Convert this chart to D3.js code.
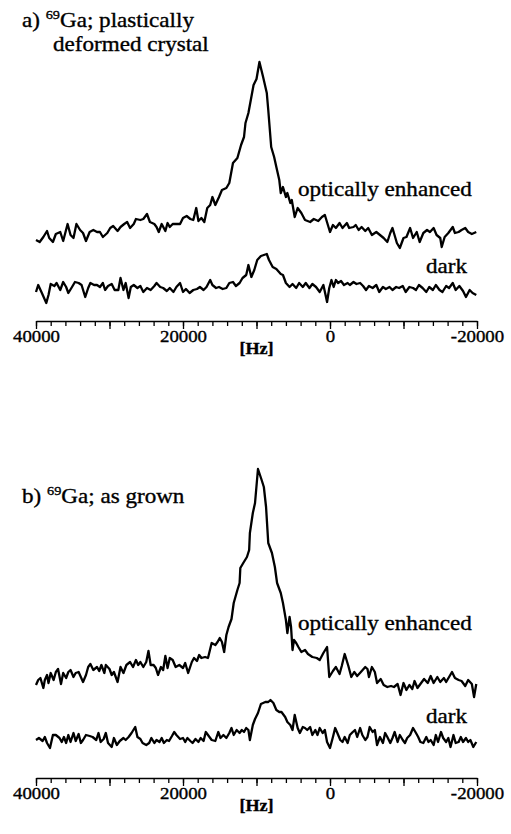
<!DOCTYPE html>
<html>
<head>
<meta charset="utf-8">
<script src="https://cdn.jsdelivr.net/npm/d3@7"></script>
<style>
  html, body { margin: 0; padding: 0; background: #fff; }
  svg { display: block; }
</style>
</head>
<body>
<svg id="chart" width="511" height="834"></svg>
<script>
// x values in Hz, y values in arbitrary units (relative to each trace's baseline)
const tickLabels = [40000, 20000, 0, -20000];

const topEnhanced = [[40000,-8],[39500,-10],[39000,-5],[38500,1],[38200,-6],[37700,-10],[37300,-2],[36700,0],[36300,-9],[35700,8],[35300,-3],[34900,-6],[34500,8],[34000,2],[33600,-1],[33200,-9],[32700,0],[32200,2],[31700,0],[31300,0],[30900,-5],[30300,-1],[29900,4],[29500,6],[28900,1],[28500,5],[28000,8],[27600,10],[27200,4],[26700,8],[26400,13],[25800,12],[25400,13],[24900,18],[24500,10],[23900,8],[23600,5],[23300,0],[22900,8],[22400,1],[22100,9],[21800,5],[21400,8],[20900,8],[20400,8],[20000,14],[19500,16],[19000,13],[18600,12],[18200,24],[17900,11],[17500,14],[17100,10],[16700,24],[16300,27],[16000,35],[15600,27],[15100,35],[14700,42],[14100,44],[13700,49],[13200,69],[12600,74],[12100,87],[11700,95],[11500,109],[11100,119],[10700,135],[10400,147],[10000,153],[9600,170],[9100,155],[8600,139],[8400,122],[8000,85],[7600,75],[7300,65],[6900,52],[6700,39],[6400,45],[6000,35],[5800,39],[5400,29],[5200,32],[4800,15],[4400,24],[3900,19],[3400,12],[2700,10],[2200,13],[1600,11],[1100,15],[700,17],[0,0],[-400,7],[-800,4],[-1300,9],[-1700,4],[-2300,9],[-2600,4],[-3200,5],[-3500,7],[-3900,2],[-4300,5],[-4800,1],[-5200,4],[-5700,-3],[-6300,0],[-6800,-3],[-7300,-6],[-7800,-10],[-8200,-1],[-8500,4],[-9100,-11],[-9500,-16],[-10000,-6],[-10400,-5],[-10900,4],[-11300,-6],[-11800,0],[-12200,-10],[-12700,-1],[-13200,2],[-13600,0],[-14100,4],[-14500,-3],[-15000,-6],[-15200,-15],[-15600,-5],[-16100,-1],[-16700,5],[-17000,-1],[-17500,0],[-17900,2],[-18400,4],[-18800,0],[-19300,-2],[-19900,0]];

const topDark = [[40000,-4],[39700,3],[39200,-5],[38600,-15],[38300,-7],[38000,4],[37500,2],[37200,5],[36700,-2],[36300,6],[35900,1],[35600,-5],[35100,1],[34700,6],[34200,5],[33800,3],[33300,-9],[32900,0],[32600,5],[32100,3],[31700,3],[31300,1],[30900,5],[30600,-2],[30200,2],[29700,4],[29300,-2],[28800,-2],[28500,10],[28100,-2],[27800,5],[27400,-10],[27100,1],[26700,3],[26200,0],[25800,2],[25400,-4],[24900,0],[24400,-2],[23900,2],[23600,5],[23100,1],[22700,0],[22200,-3],[21800,0],[21300,-4],[20900,1],[20400,5],[20000,-4],[19600,-1],[19100,-5],[18600,-2],[18100,-1],[17700,1],[17200,-2],[16800,1],[16300,8],[16000,3],[15500,0],[15100,1],[14600,-1],[14100,0],[13700,5],[13200,6],[12800,2],[12300,5],[11900,10],[11400,13],[11100,23],[10700,11],[10300,18],[9900,28],[9400,32],[9000,33],[8600,34],[8300,28],[7800,21],[7300,19],[6700,14],[6400,13],[6000,5],[5500,1],[5100,4],[4600,0],[4200,5],[3700,1],[3300,5],[2800,0],[2400,4],[1900,1],[1400,-4],[900,3],[400,-14],[100,0],[-200,8],[-500,1],[-800,8],[-1100,5],[-1500,7],[-1900,3],[-2400,5],[-2700,3],[-3200,6],[-3600,4],[-4100,5],[-4500,2],[-4900,-2],[-5300,2],[-5800,0],[-6300,3],[-6700,-4],[-7200,1],[-7600,-1],[-8100,1],[-8500,-2],[-9000,1],[-9400,0],[-9900,2],[-10300,-4],[-10800,1],[-11300,0],[-11700,-2],[-12100,3],[-12600,0],[-13100,-4],[-13500,1],[-14000,-2],[-14400,3],[-14900,-2],[-15300,-4],[-15800,2],[-16200,0],[-16700,5],[-17100,-2],[-17600,2],[-18100,-3],[-18500,-9],[-19000,-2],[-19400,-5],[-19900,-7]];

const bottomEnhanced = [[40000,-5],[39700,0],[39400,2],[39000,-8],[38800,0],[38500,5],[38300,-3],[38000,7],[37600,0],[37300,8],[37000,11],[36600,-4],[36300,7],[35900,2],[35600,8],[35300,10],[34900,3],[34600,7],[34200,8],[33900,3],[33600,-2],[33200,5],[32900,13],[32600,16],[32200,10],[31700,13],[31400,9],[31100,15],[30700,7],[30500,15],[30000,11],[29700,5],[29400,8],[28900,-2],[28500,13],[28100,7],[27700,15],[27200,18],[26800,13],[26400,20],[26100,15],[25800,18],[25400,13],[25000,18],[24700,29],[24400,15],[24000,15],[23700,12],[23400,5],[23000,13],[22700,10],[22400,24],[22100,12],[21800,22],[21400,20],[21000,13],[20500,15],[20000,12],[19700,17],[19300,7],[18800,18],[18500,22],[18100,19],[17800,25],[17500,22],[17000,23],[16600,22],[16100,37],[15600,35],[15300,38],[15000,42],[14700,38],[14400,28],[14100,45],[13800,53],[13400,61],[13100,77],[12600,90],[12300,97],[12200,112],[11800,117],[11300,123],[11000,130],[10900,147],[10500,167],[10200,177],[9800,211],[9300,200],[9000,193],[8700,173],[8400,137],[7900,127],[7500,113],[7200,97],[6700,87],[6400,77],[6000,60],[5800,47],[5500,63],[5300,53],[5100,30],[4900,40],[4600,37],[4300,33],[3900,28],[3400,30],[3000,26],[2400,23],[1800,22],[1400,20],[900,27],[400,33],[100,3],[-400,9],[-800,13],[-1300,6],[-1600,14],[-2000,26],[-2500,14],[-2900,3],[-3300,8],[-3700,4],[-4200,8],[-4800,13],[-5100,11],[-5300,3],[-5700,13],[-6100,8],[-6400,-3],[-6900,1],[-7300,-5],[-7800,-7],[-8300,-6],[-8700,-7],[-9200,-4],[-9600,-15],[-10000,-3],[-10400,-10],[-10800,-5],[-11200,-9],[-11500,-1],[-11900,-8],[-12400,-3],[-12800,1],[-13300,-3],[-13700,4],[-14100,-3],[-14600,3],[-15000,-2],[-15500,2],[-15800,-2],[-16200,3],[-16600,8],[-17000,2],[-17500,0],[-17900,-1],[-18400,-6],[-18800,0],[-19300,-4],[-19600,-17],[-19900,-4]];

const bottomDark = [[40000,-3],[39600,-1],[39100,-4],[38800,0],[38500,-6],[38100,-11],[37700,2],[37300,2],[36800,-1],[36500,-5],[36200,0],[35900,-6],[35600,2],[35300,-5],[34900,4],[34600,-4],[34200,3],[33900,-6],[33600,-3],[33200,2],[32700,1],[32300,0],[31800,-3],[31500,4],[31200,-5],[30800,-2],[30500,4],[30200,-6],[29700,-10],[29400,-1],[29000,-8],[28600,-4],[28100,-1],[27800,-3],[27400,0],[27000,4],[26500,10],[26200,0],[25800,-2],[25500,-6],[25000,-8],[24600,-6],[24300,-1],[23900,-6],[23600,-3],[23200,-5],[22900,-1],[22600,-6],[22200,-3],[21900,-4],[21500,1],[21200,5],[20900,2],[20400,-2],[20000,-1],[19700,-5],[19400,-1],[19000,-4],[18700,-6],[18300,-2],[17900,-5],[17600,-1],[17200,-4],[16900,5],[16600,2],[16100,-3],[15600,-4],[15200,5],[14900,-1],[14500,2],[14100,-1],[13700,4],[13400,9],[13100,2],[12700,7],[12300,4],[12000,7],[11700,5],[11400,9],[11100,7],[10900,-3],[10500,12],[10200,18],[9800,24],[9400,33],[8800,35],[8400,35],[8100,37],[7700,34],[7300,27],[6900,25],[6600,25],[6100,20],[5800,15],[5400,12],[5100,7],[4800,22],[4400,9],[4100,4],[3700,10],[3400,9],[3100,7],[2700,10],[2400,2],[2000,7],[1700,2],[1400,9],[1000,4],[700,7],[400,-5],[0,-11],[-400,0],[-700,9],[-1000,4],[-1400,-3],[-1700,-5],[-2000,0],[-2400,-6],[-2700,2],[-3100,5],[-3400,7],[-3700,0],[-4100,9],[-4400,2],[-4800,-3],[-5100,0],[-5400,10],[-5800,5],[-6100,7],[-6400,-8],[-6800,0],[-7200,-6],[-7500,4],[-7800,0],[-8200,-6],[-8500,-1],[-8800,5],[-9200,-5],[-9500,2],[-9900,-3],[-10200,-6],[-10500,-1],[-10900,2],[-11300,9],[-11700,4],[-12000,0],[-12300,-5],[-12700,-6],[-13100,0],[-13400,-5],[-13700,-3],[-14100,-8],[-14400,2],[-14700,-5],[-15100,5],[-15400,-1],[-15800,-5],[-16100,-1],[-16400,-10],[-16800,2],[-17100,-6],[-17500,-5],[-17800,0],[-18100,-5],[-18500,-1],[-18800,-5],[-19100,-3],[-19500,-10],[-19900,-5]];

const svg = d3.select("#chart");
const x = d3.scaleLinear().domain([40000, -20000]).range([36, 477]);
const serif = '"Liberation Serif", "Times New Roman", Times, serif';

const panels = [
  {
    axisY: 321,
    title: { x: 22, y: 27, pre: "a) ", sup: "69", post: "Ga; plastically", line2: "deformed crystal", line2x: 53 },
    traces: [
      { data: topEnhanced, offset: 89, label: "optically enhanced", lx: 298, ly: 196 },
      { data: topDark, offset: 33, label: "dark", lx: 426, ly: 273 },
    ],
  },
  {
    axisY: 778,
    title: { x: 22, y: 503, pre: "b) ", sup: "69", post: "Ga; as grown" },
    traces: [
      { data: bottomEnhanced, offset: 98, label: "optically enhanced", lx: 298, ly: 630 },
      { data: bottomDark, offset: 41, label: "dark", lx: 426, ly: 723 },
    ],
  },
];

// the printed figure is a little wider than plain Times, so stretch text horizontally
function styleText(sel, size, stretch) {
  return sel
    .style("font-family", serif)
    .attr("font-size", size)
    .attr("fill", "#000")
    .attr("stroke", "#000")
    .attr("stroke-width", 0.35);
}

function label(g, str, px, py) {
  return styleText(g.append("text"), 21)
    .attr("transform", `translate(${px},${py}) scale(1.1,1)`)
    .text(str);
}

panels.forEach((p) => {
  const g = svg.append("g");
  const y = d3.scaleLinear().domain([0, 300]).range([p.axisY, p.axisY - 300]);

  // traces
  p.traces.forEach((t) => {
    const line = d3.line()
      .x((d) => x(d[0]))
      .y((d) => y(d[1] + t.offset));
    g.append("path")
      .datum(t.data)
      .attr("d", line)
      .attr("fill", "none")
      .attr("stroke", "#000")
      .attr("stroke-width", 2.3)
      .attr("stroke-linejoin", "round");
    label(g, t.label, t.lx, t.ly);
  });

  // title
  const tt = styleText(g.append("text"), 21)
    .attr("transform", `translate(${p.title.x},${p.title.y}) scale(1.1,1)`);
  tt.append("tspan").text(p.title.pre);
  tt.append("tspan").attr("font-size", 13).attr("dy", -8).text(p.title.sup);
  tt.append("tspan").attr("dy", 8).text(p.title.post);
  if (p.title.line2) label(g, p.title.line2, p.title.line2x, p.title.y + 24);

  // axis: minor ticks every 2000 Hz, longer ones every 10000 Hz
  const gX = g.append("g").attr("transform", `translate(0,${p.axisY})`);
  gX.call(
    d3.axisBottom(x)
      .tickValues(d3.range(40000, -20001, -2000))
      .tickSize(5)
      .tickSizeOuter(0)
      .tickFormat("")
  );
  gX.append("g").call(
    d3.axisBottom(x)
      .tickValues(d3.range(40000, -20001, -10000))
      .tickSize(8)
      .tickSizeOuter(0)
      .tickPadding(1.5)
      .tickFormat((d) => (tickLabels.includes(d) ? String(d) : ""))
  ).call((a) => a.select(".domain").remove());

  gX.selectAll(".domain").attr("stroke-width", 1.6);
  gX.selectAll(".tick line").attr("stroke-width", 1.3);
  styleText(gX.selectAll(".tick text"), 16.5)
    .attr("transform", "scale(1.14,1)");

  styleText(g.append("text"), 16.5)
    .attr("transform", `translate(${(x.range()[0] + x.range()[1]) / 2},${p.axisY + 33}) scale(1.1,1)`)
    .attr("text-anchor", "middle")
    .attr("font-weight", "bold")
    .text("[Hz]");
});
</script>
</body>
</html>
